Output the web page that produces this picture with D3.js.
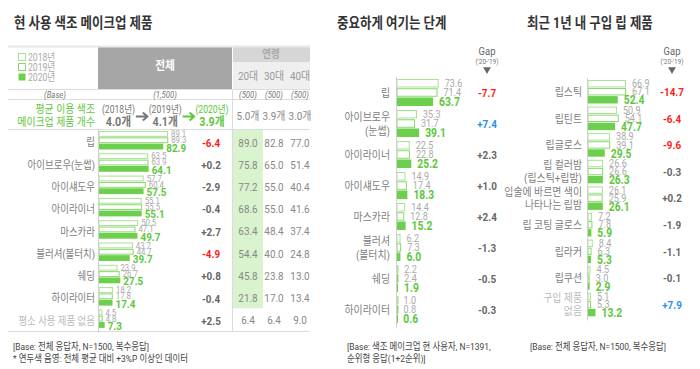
<!DOCTYPE html>
<html>
<head>
<meta charset="utf-8">
<script src="https://cdn.jsdelivr.net/npm/d3@7"></script>
<style>
  body { margin: 0; background: #fff; }
  svg text { font-family: Roboto, "Noto Sans CJK KR", sans-serif; }
</style>
</head>
<body>
<svg id="chart" width="700" height="369"></svg>
<script>
// ---- data -----------------------------------------------------------------
var years = ["2018", "2019", "2020"];

// 현 사용 색조 메이크업 제품
var useCats = ["립", "아이브로우(눈썹)", "아이섀도우", "아이라이너", "마스카라", "블러셔(볼터치)", "쉐딩", "하이라이터", "평소 사용 제품 없음"];
var use2018 = [89.1, 63.5, 57.7, 55.1, 50.5, 43.7, 23.9, 18.2, 4.5];
var use2019 = [89.3, 63.9, 60.4, 55.5, 47.1, 44.7, 26.7, 17.8, 4.8];
var use2020 = [82.9, 64.1, 57.5, 55.1, 49.7, 39.7, 27.5, 17.4, 7.3];
var useGap  = [-6.4, 0.2, -2.9, -0.4, 2.7, -4.9, 0.8, -0.4, 2.5];
var age20 = [89.0, 75.8, 77.2, 68.6, 63.4, 54.4, 45.8, 21.8, 6.4];
var age30 = [82.8, 65.0, 55.0, 55.0, 48.4, 40.0, 23.8, 17.0, 6.4];
var age40 = [77.0, 51.4, 40.4, 41.6, 37.4, 24.8, 13.0, 13.4, 9.0];
var age20Hi = [true, true, true, true, true, true, true, true, false];
var ageLabels = ["20대", "30대", "40대"];
var ageBase = ["(500)", "(500)", "(500)"];
var avgCount = [4.0, 4.1, 3.9];
var avgAge = [5.0, 3.9, 3.0];

// 중요하게 여기는 단계
var stepCats = ["립", "아이브로우\n(눈썹)", "아이라이너", "아이섀도우", "마스카라", "블러셔\n(볼터치)", "쉐딩", "하이라이터"];
var step2018 = [73.6, 35.3, 22.5, 14.9, 14.4, 6.2, 2.2, 1.0];
var step2019 = [71.4, 31.7, 22.8, 17.4, 12.8, 7.3, 2.4, 0.8];
var step2020 = [63.7, 39.1, 25.2, 18.3, 15.2, 6.0, 1.9, 0.6];
var stepGap  = [-7.7, 7.4, 2.3, 1.0, 2.4, -1.3, -0.5, -0.3];

// 최근 1년 내 구입 립 제품
var lipCats = ["립스틱", "립틴트", "립글로스", "립 컬러밤\n(립스틱+립밤)", "입술에 바르면 색이\n나타나는 립밤", "립 코팅 글로스", "립라커", "립쿠션", "구입 제품\n없음"];
var lip2018 = [66.9, 50.9, 38.9, 26.6, 26.1, 7.2, 8.4, 4.5, 5.1];
var lip2019 = [67.1, 54.1, 39.1, 26.6, 25.9, 7.8, 6.3, 3.0, 5.3];
var lip2020 = [52.4, 47.7, 29.5, 26.3, 26.1, 5.9, 5.3, 2.9, 13.2];
var lipGap  = [-14.7, -6.4, -9.6, -0.3, 0.2, -1.9, -1.1, -0.1, 7.9];

// ---- styles ---------------------------------------------------------------
var GREEN = "#6dcf4e", GREEN_TXT = "#5cc83b";
var OUT18 = "#a9e293", OUT19 = "#88d96b";
var RED = "#ff1a1a", BLUE = "#2b8ff0";
var SX = 0.86;   // text is a bit narrow in the original

var svg = d3.select("#chart");

function at(x, y) { return "translate(" + x + "," + y + ") scale(" + SX + ",1)"; }
function fmtGap(v) { return (v > 0 ? "+" : "") + v.toFixed(1); }
function gapColor(v) { return v <= -3 ? RED : (v >= 3 ? BLUE : "#666"); }

// one plain text
function label(x, y, str, size, fill, anchor, weight, style) {
  return svg.append("text")
    .attr("transform", at(x, y))
    .attr("dy", "0.35em")
    .attr("text-anchor", anchor || "start")
    .attr("font-size", size)
    .attr("font-weight", weight || "normal")
    .attr("font-style", style || "normal")
    .attr("fill", fill)
    .text(str);
}

// draws one bar block (3 bars per category + labels)
function barBlock(cfg) {
  var y = d3.scaleBand().domain(d3.range(cfg.cats.length)).range(cfg.yRange);
  var yy = d3.scaleBand().domain(years).range([0, cfg.rowH]).paddingInner(0.08);
  var x = d3.scaleLinear().domain([0, 100]).range(cfg.xRange);
  var series = [cfg.v18, cfg.v19, cfg.v20];

  var g = svg.append("g");
  var rows = g.selectAll("g.row").data(cfg.cats).enter().append("g")
    .attr("transform", function(d, i) { return "translate(0," + y(i) + ")"; });

  years.forEach(function(yr, k) {
    rows.append("rect")
      .attr("x", x(0))
      .attr("y", function() { return yy(yr) + (k < 2 ? 0.5 : 0); })
      .attr("width", function(d, i) { return Math.max(x(series[k][i]) - x(0) - (k < 2 ? 0.5 : 0), 1); })
      .attr("height", yy.bandwidth() - (k < 2 ? 1 : 0))
      .attr("fill", k < 2 ? "#fff" : GREEN)
      .attr("stroke", k == 0 ? OUT18 : (k == 1 ? OUT19 : "none"))
      .attr("stroke-width", 1);
  });

  // value labels, 2020 drawn last so it stays on top
  years.forEach(function(yr, k) {
    rows.append("text")
      .attr("transform", function(d, i) { return at(x(series[k][i]) + cfg.lblGap, cfg.lblY[k]); })
      .attr("dy", "0.35em")
      .attr("fill", k < 2 ? "#aaa" : GREEN_TXT)
      .attr("font-size", k < 2 ? cfg.smallFont : cfg.boldFont)
      .attr("font-weight", k < 2 ? "normal" : "bold")
      .text(function(d, i) { return series[k][i].toFixed(1); });
  });

  // category labels
  rows.each(function(d, i) {
    var lines = d.split("\n");
    var t = d3.select(this).append("text")
      .attr("transform", at(cfg.labelX, cfg.catY))
      .attr("text-anchor", "end")
      .attr("font-size", cfg.catFont)
      .attr("fill", i == cfg.cats.length - 1 && cfg.lastFaded ? "#bbb" : "#808080");
    lines.forEach(function(l, j) {
      t.append("tspan")
        .attr("x", 0)
        .attr("y", (j - (lines.length - 1) / 2) * cfg.lineH)
        .attr("dy", "0.35em")
        .text(l);
    });
  });

  // gap values
  rows.append("text")
    .attr("transform", at(cfg.gapX, cfg.catY))
    .attr("dy", "0.35em")
    .attr("text-anchor", "middle")
    .attr("font-size", cfg.gapFont)
    .attr("font-weight", "bold")
    .attr("fill", function(d, i) { return gapColor(cfg.gap[i]); })
    .text(function(d, i) { return fmtGap(cfg.gap[i]); });

  // axis line
  g.append("line")
    .attr("x1", x(0) - 0.5).attr("x2", x(0) - 0.5)
    .attr("y1", cfg.yRange[0] - 2).attr("y2", cfg.yRange[1] + 1)
    .attr("stroke", "#d0d0d0");

  return y;
}

function title(txt, xp) {
  label(xp, 23, txt, 14.5, "#333", "start", "bold");
}

function gapHeader(xp) {
  label(xp, 51, "Gap", 11, "#666", "middle");
  label(xp, 61, "('20-'19)", 7.5, "#777", "middle");
  svg.append("path")
    .attr("d", d3.symbol().type(d3.symbolTriangle).size(26))
    .attr("transform", "translate(" + xp + ",69.5) rotate(180)")
    .attr("fill", "#666");
}

function footer(lines, xp) {
  lines.forEach(function(l, j) {
    label(xp, 347 + j * 12, l, 9.8, "#444");
  });
}

// ---- left panel -----------------------------------------------------------
title("현 사용 색조 메이크업 제품", 14);

// header table
svg.append("rect").attr("x", 98).attr("y", 46).attr("width", 134).attr("height", 43).attr("fill", "#a6a6a6");
label(165, 66, "전체", 12.5, "#fff", "middle", "bold");
svg.append("rect").attr("x", 233).attr("y", 46).attr("width", 77).attr("height", 16).attr("fill", "#d6d6d6");
label(271, 54, "연령", 11, "#a8a8a8", "middle", "bold");
svg.append("rect").attr("x", 233).attr("y", 62).attr("width", 77).attr("height", 27).attr("fill", "#efefef");

var ageX = d3.scalePoint().domain(ageLabels).range([248, 300]);
ageLabels.forEach(function(a) { label(ageX(a), 76, a, 11.5, "#999", "middle"); });

// legend
years.forEach(function(yr, k) {
  var yp = 57 + k * 10;
  svg.append("rect").attr("x", 18.5).attr("y", yp - 3.5).attr("width", 7).attr("height", 7)
    .attr("fill", k == 2 ? GREEN : "#fff").attr("stroke", k == 2 ? "none" : (k == 0 ? OUT18 : OUT19));
  label(28, yp, yr + "년", 10, "#aaa");
});

// table lines
[46, 89, 99, 129, 331].forEach(function(yp) {
  svg.append("line").attr("x1", 8).attr("x2", 310).attr("y1", yp + 0.5).attr("y2", yp + 0.5)
    .attr("stroke", yp == 46 ? "#e8e8e8" : "#dcdcdc").attr("stroke-width", yp == 46 ? 2 : 1);
});

// 20대 highlight
var yUse = d3.scaleBand().domain(d3.range(useCats.length)).range([130, 330]);
age20Hi.forEach(function(h, i) {
  if (!h) return;
  svg.append("rect").attr("x", 233).attr("width", 30)
    .attr("y", yUse(i)).attr("height", yUse.bandwidth() + 0.5)
    .attr("fill", "#d8f3cd");
});

svg.append("line").attr("x1", 232.5).attr("x2", 232.5).attr("y1", 89).attr("y2", 331).attr("stroke", "#dcdcdc");

// base row
label(55, 94.5, "(Base)", 9, "#777", "middle", "normal", "italic");
label(165, 94.5, "(1,500)", 9, "#777", "middle", "normal", "italic");
ageBase.forEach(function(b, i) { label(ageX(ageLabels[i]), 94.5, b, 9, "#777", "middle", "normal", "italic"); });

// average row
label(95, 109, "평균 이용 색조", 11.5, GREEN_TXT, "end");
label(95, 122, "메이크업 제품 개수", 11.5, GREEN_TXT, "end");

var avgX = d3.scalePoint().domain(years).range([118.5, 212]);
years.forEach(function(yr, k) {
  var c = k == 2 ? GREEN_TXT : "#777";
  label(avgX(yr), 109, "(" + yr + "년)", 10, c, "middle");
  label(avgX(yr), 122, avgCount[k].toFixed(1) + "개", 12.5, c, "middle", "bold");
  if (k > 0) {
    var ax = (avgX(years[k - 1]) + avgX(yr)) / 2;
    svg.append("path")
      .attr("d", "M" + (ax - 6) + ",116.5 L" + (ax + 5) + ",116.5 M" + (ax + 1) + ",112.5 L" + (ax + 5.5) + ",116.5 L" + (ax + 1) + ",120.5")
      .attr("fill", "none").attr("stroke", c).attr("stroke-width", 2);
  }
});
avgAge.forEach(function(v, i) { label(ageX(ageLabels[i]), 116, v.toFixed(1) + "개", 11.5, "#888", "middle"); });

barBlock({
  cats: useCats, v18: use2018, v19: use2019, v20: use2020, gap: useGap,
  yRange: [131, 131 + 9 * 22.3], rowH: 18.5, xRange: [99, 176.5],
  lblGap: 3, lblY: [3, 9, 16.5], smallFont: 9, boldFont: 11.5,
  labelX: 95, catY: 11.5, catFont: 11, lineH: 14, gapX: 211, gapFont: 11.5, lastFaded: true
});

// age values
[age20, age30, age40].forEach(function(arr, k) {
  arr.forEach(function(v, i) {
    label(ageX(ageLabels[k]), yUse(i) + 12.5, v.toFixed(1), 11.5, "#888", "middle");
  });
});

footer(["[Base: 전체 응답자, N=1500, 복수응답]", "* 연두색 음영: 전체 평균 대비 +3%P 이상인 데이터"], 13);

// ---- middle panel ---------------------------------------------------------
title("중요하게 여기는 단계", 337);
gapHeader(487);
barBlock({
  cats: stepCats, v18: step2018, v19: step2019, v20: step2020, gap: stepGap,
  yRange: [79, 79 + 8 * 31], rowH: 27, xRange: [397, 453.7],
  lblGap: 6, lblY: [4.3, 13.5, 22.8], smallFont: 10.5, boldFont: 12,
  labelX: 390, catY: 13.5, catFont: 11.5, lineH: 14, gapX: 487, gapFont: 11.5, lastFaded: false
});
footer(["[Base: 색조 메이크업 현 사용자, N=1391,", "순위형 응답(1+2순위)]"], 347);

// ---- right panel ----------------------------------------------------------
title("최근 1년 내 구입 립 제품", 527);
gapHeader(672);
barBlock({
  cats: lipCats, v18: lip2018, v19: lip2019, v20: lip2020, gap: lipGap,
  yRange: [80, 80 + 9 * 26.6], rowH: 23.5, xRange: [588, 644.8],
  lblGap: 6, lblY: [3.6, 11.8, 20.2], smallFont: 10.5, boldFont: 12,
  labelX: 582, catY: 12, catFont: 11.5, lineH: 13, gapX: 672, gapFont: 11.5, lastFaded: true
});
footer(["[Base: 전체 응답자, N=1500, 복수응답]"], 530);
</script>
</body>
</html>
